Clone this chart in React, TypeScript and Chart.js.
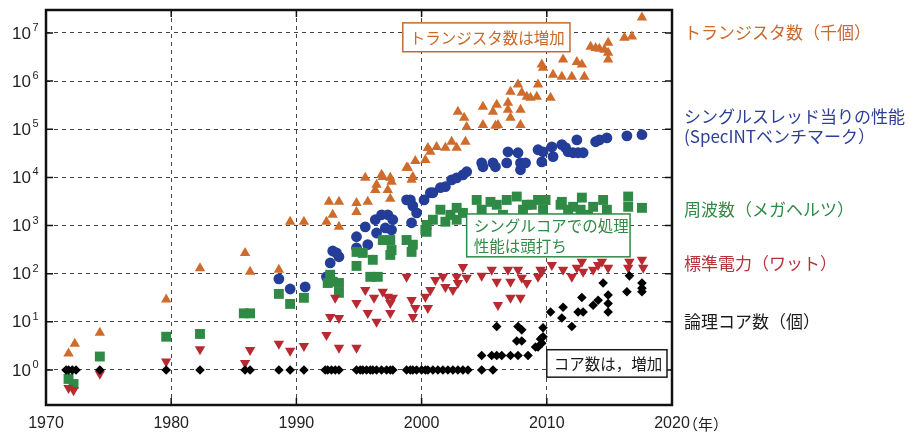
import React, { useEffect, useRef } from "react";
import { Chart, registerables } from "chart.js";
Chart.register(...registerables);

// ---- axis ticks ----
const xTickYears = [1970, 1980, 1990, 2000, 2010, 2020];
const yTickPowers = [0, 1, 2, 3, 4, 5, 6, 7];

// ---- transistors (thousands) ----
const trYears = [1971.8, 1972.3, 1974.3, 1979.6, 1982.3, 1985.9, 1986.3, 1988.6, 1989.5, 1990.6, 1992.4, 1992.6, 1992.9, 1993.4, 1993.4, 1994.8, 1994.8, 1995.5, 1995.7, 1996.3, 1996.4, 1996.8, 1996.9, 1997.5, 1997.3, 1997.5, 1997.6, 1998.8, 1998.9, 1999.5, 1999.3, 1999.2, 2000.3, 2000.5, 2000.7, 2001.2, 2001.9, 2002.4, 2002.8, 2003.5, 2002.9, 2003.4, 2003.6, 2004.9, 2004.9, 2005.7, 2006.0, 2005.9, 2006.1, 2006.9, 2006.9, 2007.1, 2007.1, 2007.7, 2007.9, 2007.9, 2008.0, 2008.4, 2008.7, 2009.3, 2009.2, 2009.6, 2009.7, 2010.3, 2010.5, 2011.3, 2011.2, 2012.0, 2012.4, 2012.8, 2013.0, 2013.5, 2013.9, 2014.2, 2014.6, 2014.9, 2014.9, 2014.9, 2016.2, 2016.8, 2017.6];
const trValues = [2.2, 3.5, 5.9, 29, 130, 270, 110, 120, 1200, 1200, 1200, 3100, 1670, 3100, 940, 2950, 1920, 9800, 3100, 5500, 7000, 11300, 10200, 9800, 5500, 3600, 8100, 15800, 15800, 22000, 10200, 8900, 23000, 41000, 34000, 43000, 41500, 55000, 41500, 55000, 230000, 174000, 112000, 295000, 123000, 230000, 323000, 118000, 123000, 355000, 255000, 600000, 174000, 850000, 255000, 123000, 575000, 475000, 450000, 850000, 475000, 2200000, 1900000, 450000, 1350000, 2800000, 1230000, 1230000, 2500000, 2200000, 1230000, 5200000, 4900000, 4700000, 4500000, 6300000, 3900000, 2800000, 8000000, 8400000, 21000000];

// ---- single-thread performance (SpecINT) ----
const perfYears = [1988.6, 1989.5, 1990.7, 1992.4, 1992.7, 1992.9, 1993.2, 1993.4, 1994.8, 1994.8, 1995.5, 1995.7, 1996.3, 1996.4, 1996.8, 1997.1, 1997.3, 1997.7, 1997.6, 1998.8, 1999.3, 1999.6, 1999.2, 1999.1, 2000.2, 2000.7, 2000.9, 2001.5, 2001.9, 2002.4, 2002.8, 2003.3, 2003.6, 2004.8, 2004.9, 2005.7, 2005.9, 2006.8, 2006.9, 2007.7, 2007.9, 2008.3, 2007.9, 2009.3, 2009.6, 2009.7, 2010.4, 2010.5, 2011.2, 2011.5, 2011.7, 2012.1, 2012.5, 2012.9, 2012.4, 2013.9, 2014.2, 2014.8, 2016.4, 2017.6];
const perfValues = [78, 48, 53, 86, 167, 296, 270, 224, 585, 345, 940, 400, 1320, 700, 1670, 890, 1670, 1320, 810, 3400, 2560, 1830, 1140, 3400, 3400, 4800, 4800, 6100, 6400, 8900, 9800, 11300, 13100, 20000, 16600, 20000, 16600, 20000, 34000, 32500, 20000, 20000, 14400, 37500, 21000, 34000, 43000, 27000, 48000, 41500, 34000, 32500, 32500, 32500, 60000, 55000, 60000, 66000, 73000, 77000];

// ---- frequency (MHz) ----
const freqYears = [1971.8, 1972.2, 1974.3, 1979.6, 1982.3, 1985.8, 1986.3, 1988.6, 1989.5, 1990.6, 1992.5, 1992.7, 1992.9, 1993.4, 1993.4, 1994.8, 1994.8, 1995.3, 1996.1, 1995.9, 1996.5, 1996.9, 1997.5, 1997.5, 1997.6, 1998.8, 1999.3, 1999.2, 2000.4, 2000.4, 2000.3, 2000.9, 2001.5, 2001.9, 2002.3, 2002.8, 2002.8, 2003.3, 2004.4, 2004.8, 2005.5, 2006.0, 2006.5, 2006.8, 2007.6, 2008.1, 2008.4, 2008.8, 2009.3, 2009.9, 2009.7, 2011.1, 2011.2, 2011.7, 2012.1, 2012.7, 2012.8, 2013.3, 2013.7, 2014.5, 2014.8, 2016.5, 2016.5, 2017.6];
const freqValues = [0.65, 0.51, 1.9, 4.9, 5.6, 15, 15, 38, 23.5, 31.5, 64, 95, 68, 64, 40, 283, 145, 270, 194, 86, 86, 500, 500, 245, 310, 500, 400, 283, 740, 1030, 810, 1320, 2130, 1200, 1670, 1320, 2330, 1830, 3400, 2130, 3100, 2700, 1670, 3400, 4000, 2130, 2700, 2700, 3400, 3400, 2130, 2700, 3100, 2130, 2450, 2130, 3800, 1670, 2450, 3400, 2130, 4000, 2450, 2330];

// ---- typical power (W) ----
const powYears = [1971.8, 1972.2, 1974.3, 1979.6, 1982.3, 1985.9, 1986.3, 1988.6, 1989.5, 1990.6, 1992.4, 1992.7, 1993.1, 1993.4, 1993.4, 1994.8, 1994.8, 1995.5, 1995.7, 1996.2, 1996.4, 1996.9, 1997.3, 1997.5, 1997.5, 1997.7, 1998.8, 1999.2, 1999.5, 1999.3, 2000.3, 2000.5, 2000.7, 2001.1, 2001.7, 2001.9, 2002.5, 2002.8, 2002.9, 2003.3, 2003.6, 2004.8, 2005.6, 2006.0, 2006.1, 2006.9, 2007.1, 2007.1, 2007.9, 2007.7, 2008.0, 2008.4, 2009.3, 2009.5, 2009.6, 2010.4, 2011.3, 2012.0, 2012.4, 2012.8, 2012.9, 2013.7, 2014.1, 2014.4, 2014.9, 2016.5, 2016.6, 2017.6, 2017.7];
const powValues = [0.42, 0.38, 0.83, 1.5, 2.7, 1.4, 2.6, 3.5, 2.5, 3.15, 5.3, 12.6, 31.5, 12, 2.9, 24.7, 2.9, 46, 15.3, 31.5, 10, 42, 33, 24.7, 15.3, 31.5, 86, 28.5, 19.4, 12.6, 33, 19.4, 46, 74, 86, 53, 46, 86, 64, 138, 82, 90, 120, 68, 22.4, 120, 68, 31.5, 31.5, 120, 82, 64, 86, 120, 109, 152, 120, 86, 132, 176, 109, 120, 152, 176, 132, 132, 176, 194, 132];

// ---- logical cores ----
const coreYears = [1971.6, 1971.8, 1972.1, 1972.4, 1974.3, 1979.6, 1982.3, 1985.9, 1986.3, 1988.6, 1989.5, 1990.6, 1992.3, 1992.5, 1992.8, 1993.1, 1993.4, 1994.8, 1995.1, 1995.3, 1995.6, 1995.9, 1996.1, 1996.4, 1996.8, 1997.2, 1997.5, 1997.7, 1998.8, 1999.1, 1999.3, 1999.6, 2000.0, 2000.3, 2000.5, 2000.9, 2001.3, 2001.7, 2002.1, 2002.5, 2002.9, 2003.3, 2003.7, 2004.8, 2005.7, 2004.8, 2005.6, 2006.0, 2006.4, 2007.1, 2007.7, 2008.5, 2007.6, 2008.0, 2009.1, 2009.3, 2009.6, 2009.5, 2006.0, 2007.7, 2008.0, 2009.7, 2009.7, 2010.3, 2011.3, 2011.2, 2012.0, 2012.5, 2012.9, 2012.8, 2013.7, 2014.1, 2014.5, 2014.9, 2014.9, 2014.9, 2016.4, 2016.6, 2017.6, 2017.6, 2017.6];
const coreValues = [1, 1, 1, 1, 1, 1, 1, 1, 1, 1, 1, 1, 1, 1, 1, 1, 1, 1, 1, 1, 1, 1, 1, 1, 1, 1, 1, 1, 1, 1, 1, 1, 1, 1, 1, 1, 1, 1, 1, 1, 1, 1, 1, 1, 1, 2, 2, 2, 2, 2, 2, 2, 4, 4, 3, 3, 3.6, 4.4, 8, 8, 6.8, 7.5, 4.9, 16, 20, 12, 8, 16, 16, 32, 22, 28, 64, 36, 24, 16, 42, 90, 64, 50, 42];

// ---- text ----
const seriesLabels = [
  { lines: ["トランジスタ数（千個）"], color: "#c9692c", exp: 7.0 },
  { lines: ["シングルスレッド当りの性能", "(SpecINTベンチマーク）"], color: "#2b3f98", exp: 5.05 },
  { lines: ["周波数（メガヘルツ）"], color: "#2f8a45", exp: 3.33 },
  { lines: ["標準電力（ワット）"], color: "#b7333b", exp: 2.22 },
  { lines: ["論理コア数（個）"], color: "#1a1a1a", exp: 1.0 },
];
const notes = [
  { lines: ["トランジスタ数は増加"], color: "#c9692c", x1: 1998.5, x2: 2011.85, e1: 7.21, e2: 6.61 },
  { lines: ["シングルコアでの処理", "性能は頭打ち"], color: "#2f8a45", x1: 2003.6, x2: 2016.65, e1: 3.24, e2: 2.35 },
  { lines: ["コア数は，増加"], color: "#1a1a1a", x1: 2010.0, x2: 2019.6, e1: 0.42, e2: -0.15 },
];

const JP = '"Noto Sans CJK JP", "Liberation Sans", sans-serif';
const LAT = '"Liberation Sans", Arial, sans-serif';

const pts = (xs: number[], ys: number[]) => xs.map((x, i) => ({ x, y: ys[i] }));

const decor = {
  id: "decor",
  afterDatasetsDraw(chart: any) {
    const { ctx, chartArea: a, scales } = chart;
    const x = scales.x, y = scales.y;
    ctx.save();
    // frame
    ctx.strokeStyle = "#111";
    ctx.lineWidth = 2.5;
    ctx.strokeRect(a.left, a.top, a.right - a.left, a.bottom - a.top);
    // inner ticks
    ctx.lineWidth = 1.5;
    ctx.beginPath();
    yTickPowers.forEach((p) => {
      const py = y.getPixelForValue(Math.pow(10, p));
      ctx.moveTo(a.left, py); ctx.lineTo(a.left + 7, py);
      ctx.moveTo(a.right, py); ctx.lineTo(a.right - 7, py);
    });
    xTickYears.forEach((yr) => {
      const px = x.getPixelForValue(yr);
      ctx.moveTo(px, a.top); ctx.lineTo(px, a.top + 7);
      ctx.moveTo(px, a.bottom); ctx.lineTo(px, a.bottom - 7);
    });
    ctx.stroke();
    // y labels 10^n
    ctx.fillStyle = "#222";
    yTickPowers.forEach((p) => {
      const py = y.getPixelForValue(Math.pow(10, p));
      ctx.font = `17px ${LAT}`;
      ctx.textAlign = "right";
      ctx.textBaseline = "middle";
      ctx.fillText("10", 31, py + 1);
      ctx.font = `11px ${LAT}`;
      ctx.textAlign = "left";
      ctx.fillText(String(p), 32.5, py - 5);
    });
    // (年)
    ctx.font = `15px ${JP}`;
    ctx.textAlign = "left";
    ctx.textBaseline = "middle";
    ctx.fillText("（年）", a.right + 11, a.bottom + 19);
    // right labels
    ctx.font = `17px ${JP}`;
    seriesLabels.forEach((s) => {
      const cy = y.getPixelForValue(Math.pow(10, s.exp));
      ctx.fillStyle = s.color;
      const n = s.lines.length;
      s.lines.forEach((t, i) => {
        ctx.fillText(t, a.right + 12, cy + (i - (n - 1) / 2) * 20);
      });
    });
    // note boxes
    notes.forEach((b) => {
      const l = x.getPixelForValue(b.x1), r = x.getPixelForValue(b.x2);
      const t = y.getPixelForValue(Math.pow(10, b.e1)), bt = y.getPixelForValue(Math.pow(10, b.e2));
      ctx.fillStyle = "#fff";
      ctx.fillRect(l, t, r - l, bt - t);
      ctx.strokeStyle = b.color;
      ctx.lineWidth = 1.5;
      ctx.strokeRect(l, t, r - l, bt - t);
      ctx.fillStyle = b.color;
      ctx.font = `15.5px ${JP}`;
      ctx.textAlign = "left";
      const n = b.lines.length;
      const cy = (t + bt) / 2;
      b.lines.forEach((s, i) => {
        ctx.fillText(s, l + 7, cy + (i - (n - 1) / 2) * 20 + 1);
      });
    });
    ctx.restore();
  },
};

export default function App() {
  const ref = useRef<HTMLCanvasElement | null>(null);
  useEffect(() => {
    if (!ref.current) return;
    const chart = new Chart(ref.current, {
      type: "scatter",
      data: {
        datasets: [
          { label: "cores", data: pts(coreYears, coreValues), pointStyle: "rectRot", pointRadius: 4.8, backgroundColor: "#000", borderWidth: 0 },
          { label: "power", data: pts(powYears, powValues), pointStyle: "triangle", pointRotation: 180, pointRadius: 6, backgroundColor: "#b72a31", borderWidth: 0 },
          { label: "freq", data: pts(freqYears, freqValues), pointStyle: "rect", pointRadius: 7, backgroundColor: "#2e8a44", borderWidth: 0 },
          { label: "perf", data: pts(perfYears, perfValues), pointStyle: "circle", pointRadius: 5.4, backgroundColor: "#233d99", borderWidth: 0 },
          { label: "transistors", data: pts(trYears, trValues), pointStyle: "triangle", pointRadius: 6, backgroundColor: "#cf6b2b", borderWidth: 0 },
        ] as any,
      },
      options: {
        animation: false,
        responsive: false,
        maintainAspectRatio: false,
        layout: { padding: { left: 0, top: 10, right: 242, bottom: 0 } },
        plugins: { legend: { display: false }, tooltip: { enabled: false } },
        scales: {
          x: {
            type: "linear",
            min: 1970,
            max: 2020,
            afterBuildTicks: (s: any) => { s.ticks = xTickYears.map((v) => ({ value: v })); },
            afterFit: (s: any) => { s.height = 30; },
            grid: { color: "#444", lineWidth: 1, drawTicks: false },
            border: { display: false, dash: [4, 4] },
            ticks: { font: { family: LAT, size: 16 }, color: "#222", padding: 9, maxRotation: 0, callback: (v: any) => String(v) },
          },
          y: {
            type: "logarithmic",
            min: 0.187,
            max: 3e7,
            afterBuildTicks: (s: any) => { s.ticks = yTickPowers.map((p) => ({ value: Math.pow(10, p) })); },
            afterFit: (s: any) => { s.width = 46; },
            grid: { color: "#444", lineWidth: 1, drawTicks: false },
            border: { display: false, dash: [4, 4] },
            ticks: { display: false },
          },
        },
      },
      plugins: [decor],
    });
    return () => chart.destroy();
  }, []);
  return (
    <div style={{ position: "absolute", left: 0, top: 0, width: 914, height: 435, background: "#fff" }}>
      <canvas ref={ref} width={914} height={435} />
    </div>
  );
}
